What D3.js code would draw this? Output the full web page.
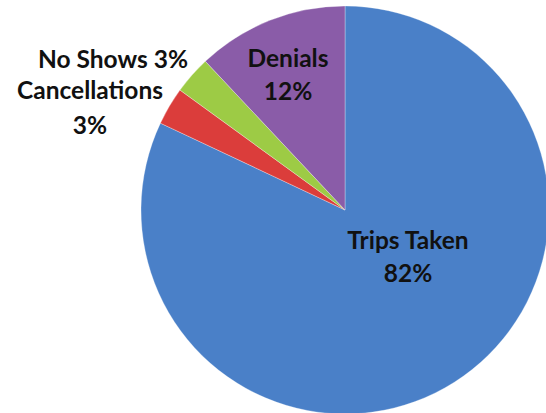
<!DOCTYPE html>
<html><head><meta charset="utf-8">
<script src="https://cdn.jsdelivr.net/npm/d3@7"></script>
<style>html,body{margin:0;padding:0;background:#fff;overflow:hidden}</style>
</head><body><svg id="c" width="546" height="413"></svg>
<script>
const categories = ["Trips Taken", "Cancellations", "No Shows", "Denials"];
const values = [82, 3, 3, 12];
const colors = ["#4a80c8", "#db3d3b", "#9dcb45", "#8a5ca8"];

const svg = d3.select("#c");
const cx = 345, cy = 210, r = 204;
const g = svg.append("g").attr("transform", `translate(${cx},${cy})`);
const pie = d3.pie().sort(null).value(d => d.v);
const data = categories.map((c, i) => ({c, v: values[i], col: colors[i]}));
const arcs = pie(data);
const arc = d3.arc().innerRadius(0).outerRadius(r);
g.selectAll("path").data(arcs).enter().append("path")
  .attr("d", arc).attr("fill", d => d.data.col)
  .attr("stroke", "#ffffff").attr("stroke-width", 0.6).attr("stroke-opacity", 0.5);

const font = "Lato, 'Open Sans', sans-serif";
function label(lines, x, y0, anchor, dy) {
  const t = svg.append("text").attr("font-family", font).attr("font-weight", "bold")
    .attr("font-size", 24.5).attr("fill", "#111").attr("text-anchor", anchor);
  lines.forEach((l, i) => t.append("tspan").attr("x", x).attr("y", y0 + i * dy).text(l));
}
label([categories[3], values[3] + "%"], 288, 67, "middle", 33);
label([categories[0], values[0] + "%"], 408, 249, "middle", 33);
label([categories[2] + " " + values[2] + "%"], 188, 68, "end", 0);
label([categories[1], values[1] + "%"], 90, 99, "middle", 35);
</script></body></html>
